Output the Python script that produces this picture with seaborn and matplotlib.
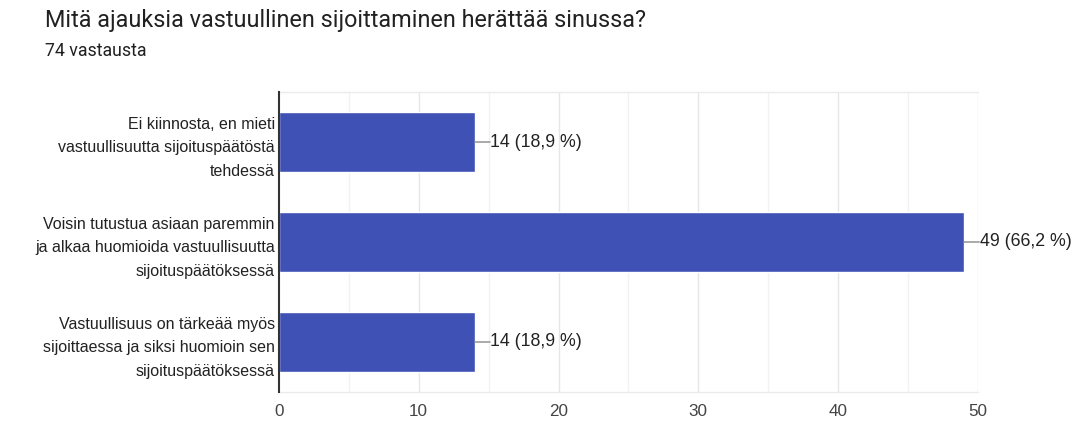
import numpy as np
import pandas as pd
import matplotlib
matplotlib.use("Agg")
import matplotlib.pyplot as plt
import seaborn as sns

# data
categories = [
    "Ei kiinnosta, en mieti\nvastuullisuutta sijoituspäätöstä\ntehdessä",
    "Voisin tutustua asiaan paremmin\nja alkaa huomioida vastuullisuutta\nsijoituspäätöksessä",
    "Vastuullisuus on tärkeää myös\nsijoittaessa ja siksi huomioin sen\nsijoituspäätöksessä",
]
counts = [14, 49, 14]
percents = ["18,9", "66,2", "18,9"]
total = 74

df = pd.DataFrame({"vastaus": categories, "lkm": counts})

sns.set_theme(style="white")
plt.rcParams["font.family"] = ["Liberation Sans", "DejaVu Sans"]

fig = plt.figure(figsize=(10.77, 4.24), dpi=100)
ax = fig.add_axes([0.259, 0.0755, 0.649, 0.7075])

sns.barplot(data=df, y="vastaus", x="lkm", orient="h", color="#3f51b5",
            saturation=1, width=0.6, ax=ax, zorder=3)

ax.set_xlim(0, 50)
ax.set_ylim(2.5, -0.5)

# gridlines: major every 10, minor every 5
for v in np.arange(5, 50, 10):
    ax.axvline(v, color="#f2f2f2", lw=1, zorder=1)
for v in np.arange(10, 51, 10):
    ax.axvline(v, color="#e6e6e6", lw=1, zorder=1)

ax.set_xticks(np.arange(0, 51, 10))
ax.tick_params(axis="x", length=0, labelsize=12.3, labelcolor="#444444", pad=9)
ax.tick_params(axis="y", length=0, labelsize=11.5, labelcolor="#222222", pad=3)
for lab in ax.get_yticklabels():
    lab.set_linespacing(1.72)
    lab.set_horizontalalignment("right")

ax.set_xlabel("")
ax.set_ylabel("")

for s in ["top", "bottom"]:
    ax.spines[s].set_color("#ebebeb")
    ax.spines[s].set_linewidth(1)
ax.spines["right"].set_visible(False)
ax.spines["left"].set_color("#333333")
ax.spines["left"].set_linewidth(1.5)
ax.spines["left"].set_zorder(4)

# value labels with a short leader line
for i, (c, p) in enumerate(zip(counts, percents)):
    ax.annotate("", xy=(c, i), xytext=(c + 1.1, i),
                arrowprops=dict(arrowstyle="-", color="#888888", lw=1,
                                shrinkA=0, shrinkB=0), zorder=4)
    ax.text(c + 1.12, i, f"{c} ({p} %)", va="center", ha="left",
            fontsize=12.8, color="#222222")

fig.text(45 / 1077, 1 - 20 / 424, "Mitä ajauksia vastuullinen sijoittaminen herättää sinussa?",
         family="Roboto", fontsize=16.8, color="#212121", va="center", ha="left")
fig.text(45 / 1077, 1 - 51 / 424, f"{total} vastausta",
         family="Roboto", fontsize=12.8, color="#212121", va="center", ha="left")

fig.savefig("out.png", dpi=100)
